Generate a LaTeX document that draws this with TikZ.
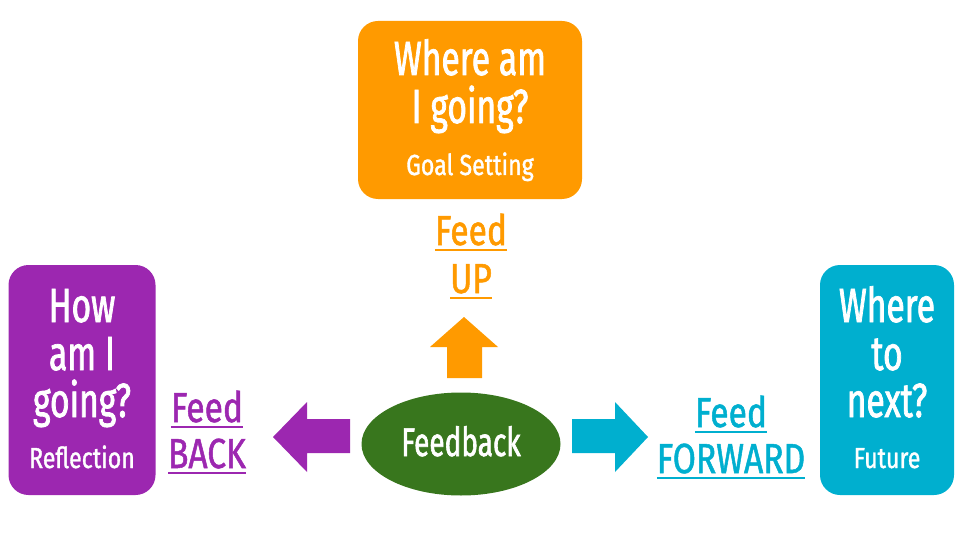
\documentclass[tikz,border=0pt]{standalone}
\usepackage{fontspec}
\setmainfont{Fira Sans}[FakeStretch=0.7, FakeBold=1.5]
\newfontfamily\labfont{Fira Sans}[FakeStretch=0.8, FakeBold=1.2]
\usetikzlibrary{shapes.geometric}
\definecolor{upc}{HTML}{FF9A00}
\definecolor{backc}{HTML}{9C27B0}
\definecolor{fwdc}{HTML}{00AFCF}
\definecolor{fbc}{HTML}{38761D}
\newcommand\ulab[1]{\setbox0\hbox{#1}\rlap{\rule[-6pt]{\wd0}{2.5pt}}\box0}
\begin{document}
\begin{tikzpicture}[x=1pt, y=-1pt,
        box/.style = {rounded corners=20pt, inner sep=0pt},
        big/.style = {text=white, anchor=base, inner sep=0pt, font=\fontsize{48}{48}\selectfont},
        sub/.style = {text=white, anchor=base, inner sep=0pt, font=\labfont\fontsize{29}{29}\selectfont},
        lab/.style = {anchor=base, inner sep=0pt, font=\labfont\fontsize{42}{42}\selectfont}]
        \useasboundingbox (0,0) rectangle (960,540);

        % Les trois questions
        \node[box, fill=upc, minimum width=224pt, minimum height=178pt] (goal) at (470,110) {};
        \node[box, fill=backc, minimum width=147pt, minimum height=230pt] (refl) at (82,380) {};
        \node[box, fill=fwdc, minimum width=134pt, minimum height=230pt] (next) at (887,380) {};

        \foreach \t/\y in {Where am/75, I going?/123}{
            \node[big] (goal-\y) at (470,\y) {\t};
        }
        \node[sub] (goal-sub) at (470,175) {Goal Setting};
        \foreach \t/\y in {How/322, am I/370, going?/417}{
            \node[big] (refl-\y) at (82,\y) {\t};
        }
        \node[sub] (refl-sub) at (82,468) {Reflection};
        \foreach \t/\y in {Where/322, to/370, next?/417}{
            \node[big] (next-\y) at (887,\y) {\t};
        }
        \node[sub] (next-sub) at (887,468) {Future};

        % Feedback au centre
        \node[ellipse, fill=fbc, minimum width=199pt, minimum height=103pt, inner sep=0pt] (fb) at (461,444) {};
        \node[anchor=base, inner sep=0pt, text=white, font=\fontsize{40}{40}\selectfont] (fb-txt) at (461,456) {Feedback};

        % Etiquettes
        \node[lab, text=upc] (up1) at (471,245) {\ulab{Feed}};
        \node[lab, text=upc] (up2) at (471,293) {\ulab{UP}};
        \node[lab, text=backc] (back1) at (207,422) {\ulab{Feed}};
        \node[lab, text=backc] (back2) at (207,468) {\ulab{BACK}};
        \node[lab, text=fwdc] (fwd1) at (731,427) {\ulab{Feed}};
        \node[lab, text=fwdc] (fwd2) at (731,473) {\ulab{FORWARD}};

        % Fleches pleines
        \fill[upc] (447,378) -- (447,347) -- (430,347) -- (464,317) -- (498,347) -- (482,347) -- (482,378) -- cycle;
        \fill[backc] (350,419) -- (307,419) -- (307,402) -- (273,437) -- (307,472) -- (307,453) -- (350,453) -- cycle;
        \fill[fwdc] (572,419) -- (615,419) -- (615,402) -- (648,437) -- (615,472) -- (615,453) -- (572,453) -- cycle;
    \end{tikzpicture}
\end{document}
